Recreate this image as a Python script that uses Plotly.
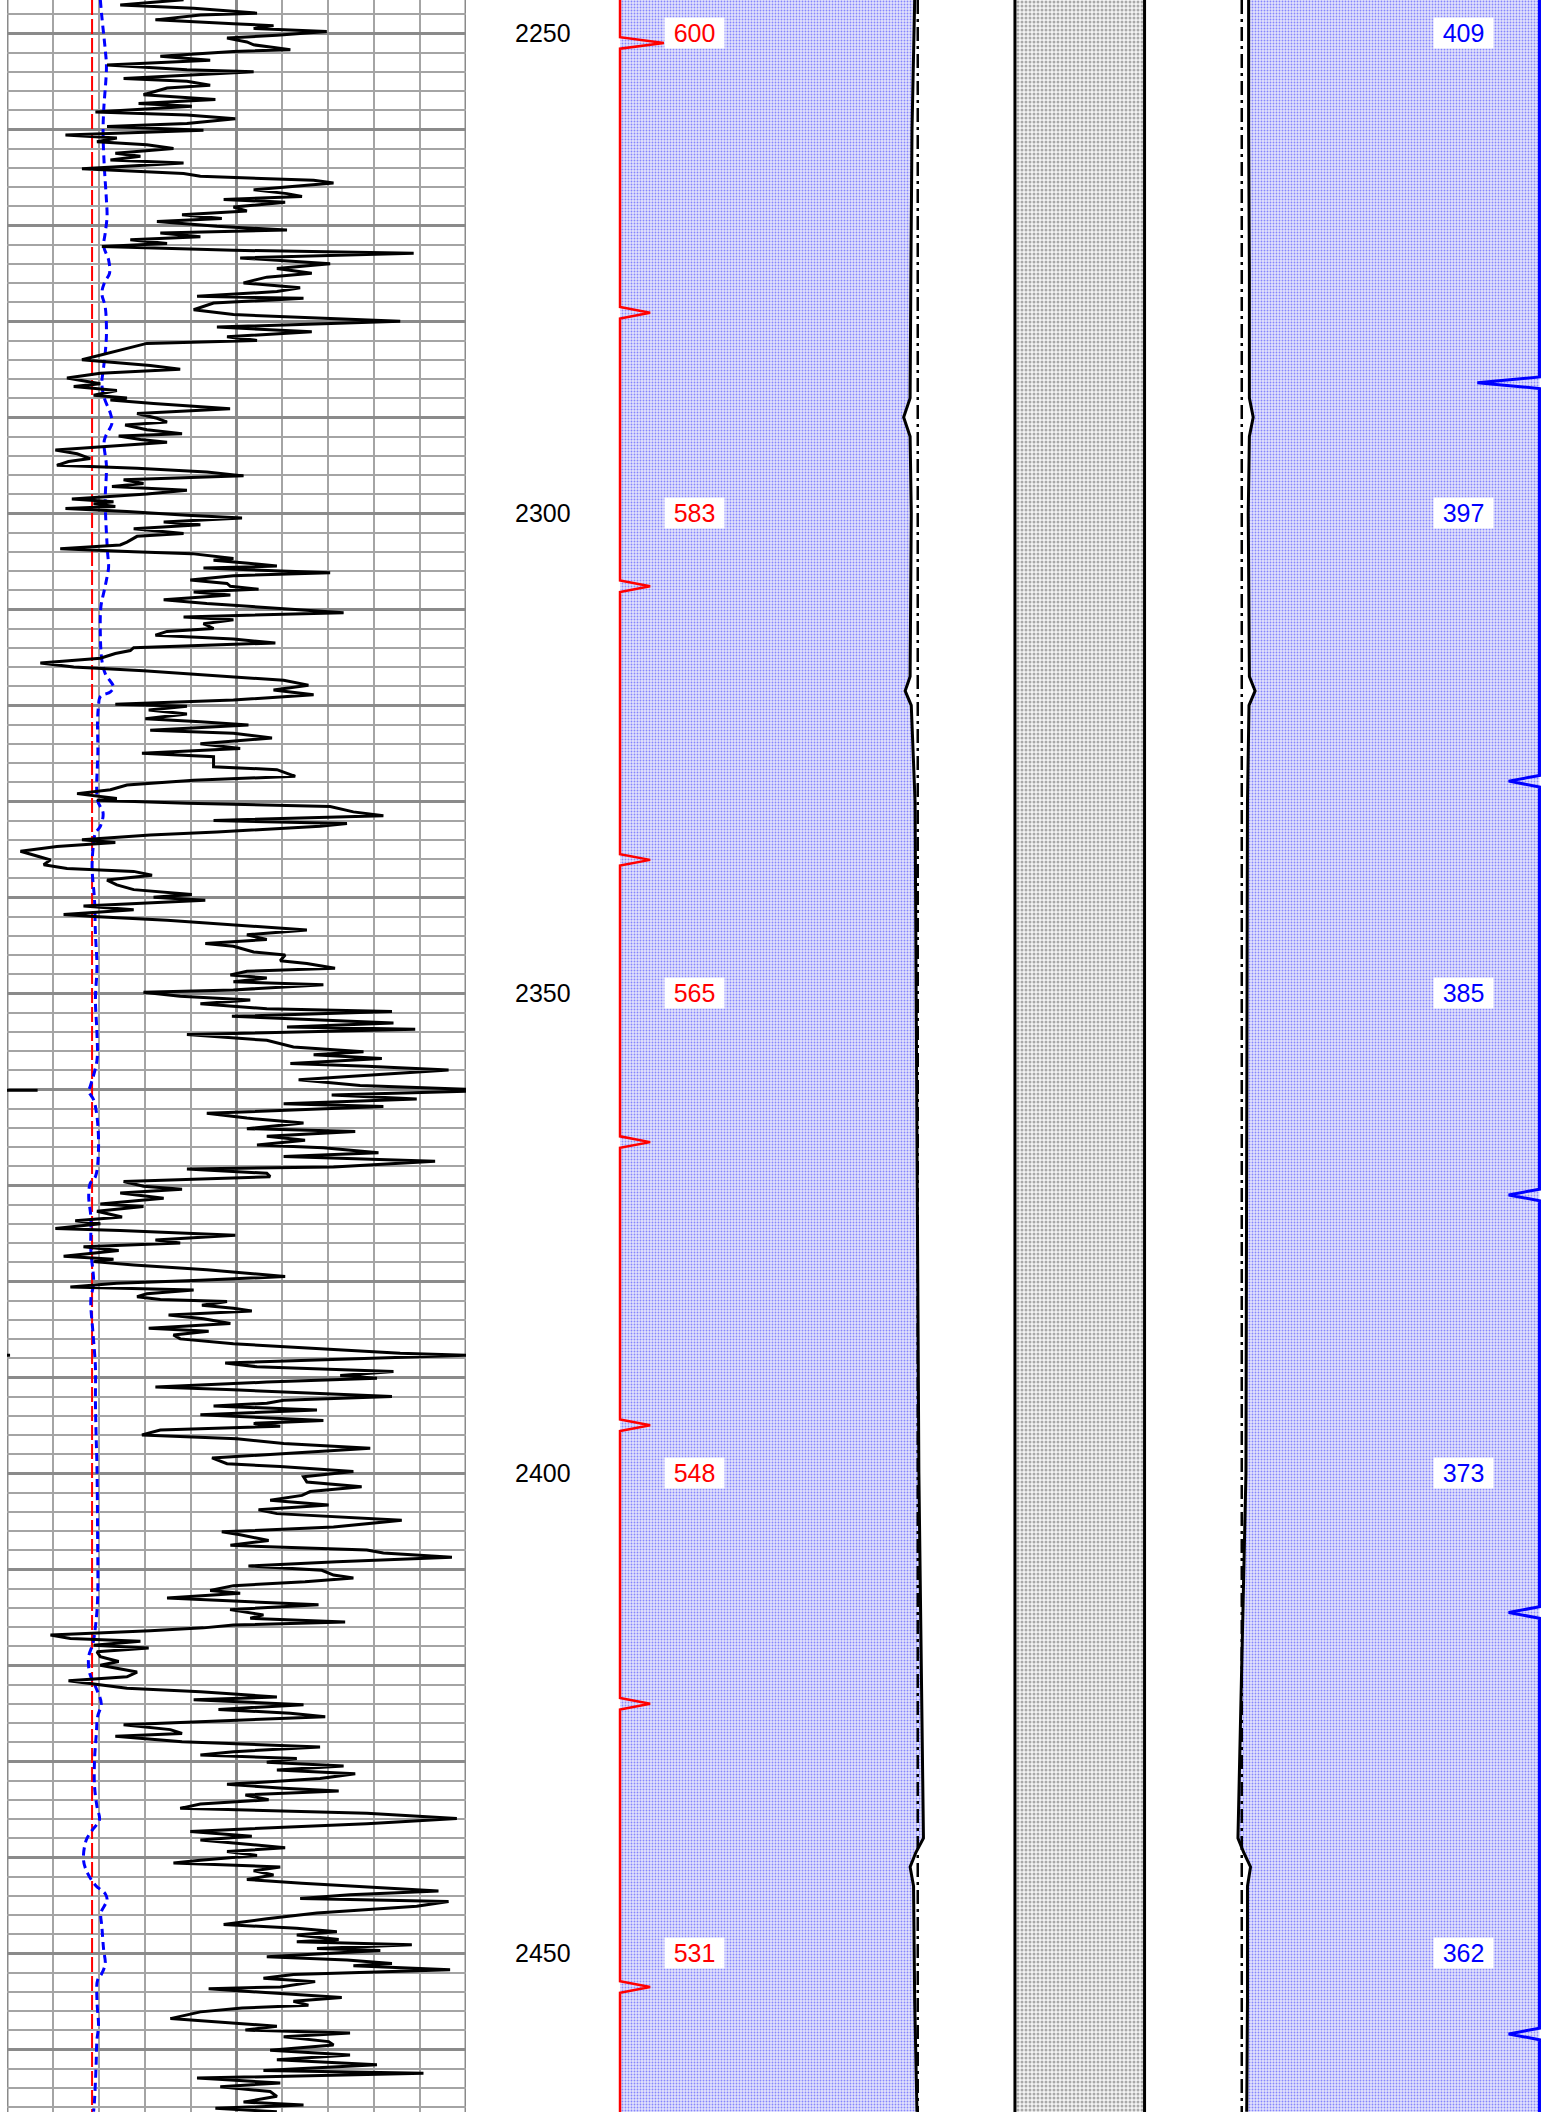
import plotly.graph_objects as go

W, H = 1553, 2112
TOP, BOTTOM = 2246.53, 2466.53

# ---------------- data ----------------
DEPTH_LABELS = [2250, 2300, 2350, 2400, 2450]
RED_LABELS = [600, 583, 565, 548, 531]
BLUE_LABELS = [409, 397, 385, 373, 362]

GR_CUTOFF = 27.8

GR_DEPTH_A = [2246.5, 2247.05, 2247.4, 2247.9, 2248.1, 2248.6, 2249.0, 2249.2, 2249.5, 2249.8,
              2250.2, 2250.5, 2250.9, 2251.2, 2251.7, 2251.9, 2252.4, 2252.8, 2253.3, 2253.8,
              2254.0, 2254.3, 2254.7, 2255.0, 2255.4, 2255.7, 2256.4, 2256.9, 2257.3, 2257.6,
              2258.2, 2258.5, 2258.9, 2259.4, 2259.7, 2260.1, 2260.6, 2260.9, 2261.3, 2261.6,
              2262.0, 2262.5, 2262.8, 2263.2, 2263.5, 2264.1, 2264.3, 2264.6, 2264.9, 2265.3,
              2265.6, 2266.0, 2266.3, 2266.7, 2267.0, 2267.3, 2267.6, 2268.1, 2268.5, 2268.9,
              2269.3, 2269.6, 2270.1, 2270.5, 2270.8, 2271.2, 2271.5, 2271.9, 2272.2, 2272.6,
              2272.9, 2273.4, 2274.0, 2274.5, 2275.0, 2275.4, 2276.0, 2276.5, 2276.9, 2277.4,
              2277.6, 2278.1, 2278.8, 2279.3, 2280.0, 2280.6, 2281.1, 2281.6, 2282.0, 2282.3,
              2282.8, 2283.3, 2284.0, 2284.6, 2285.0, 2285.4, 2285.9, 2286.5, 2286.8, 2287.2,
              2287.7, 2288.0]
GR_API_A = [57.7, 37.0, 61.0, 81.7, 63.2, 48.5, 74.0, 87.1, 80.6, 104.5,
            88.2, 71.9, 78.4, 80.6, 92.6, 74.0, 50.1, 66.4, 32.7, 58.8,
            80.6, 63.2, 38.1, 58.8, 66.4, 52.3, 44.6, 68.1, 43.0, 60.4,
            28.9, 58.8, 74.6, 58.8, 32.7, 64.2, 19.1, 35.9, 29.4, 45.7,
            54.4, 35.4, 43.6, 33.8, 57.7, 24.5, 37.0, 57.7, 63.2, 100.2,
            106.7, 90.4, 80.6, 91.5, 96.4, 70.8, 90.9, 74.0, 78.4, 57.2,
            70.2, 49.0, 68.6, 91.5, 50.1, 63.2, 40.3, 52.3, 31.0, 74.0,
            132.9, 76.2, 105.6, 88.2, 99.6, 84.9, 77.3, 95.8, 88.2, 62.1,
            96.9, 67.5, 61.0, 74.0, 128.5, 68.6, 99.6, 71.9, 81.7, 45.7,
            39.2, 32.7, 24.5, 46.8, 56.6, 30.5, 19.6, 30.5, 21.8, 35.9,
            28.3, 39.2]

GR_DEPTH_B = [2288.2, 2288.55, 2289.1, 2289.6, 2290.1, 2290.5, 2290.8, 2291.3, 2291.7, 2291.95,
              2292.3, 2292.6, 2293.4, 2293.8, 2294.3, 2294.6, 2295.0, 2295.3, 2295.7, 2296.1,
              2296.5, 2296.9, 2297.2, 2297.6, 2298.0, 2298.5, 2298.8, 2299.0, 2299.3, 2299.5,
              2299.8, 2300.2, 2300.5, 2300.9, 2301.2, 2301.6, 2302.1, 2302.4, 2303.0, 2303.3,
              2303.7, 2304.0, 2304.2, 2304.7, 2304.9, 2305.2, 2305.5, 2305.7, 2306.2, 2306.5,
              2306.95, 2307.3, 2307.6, 2307.9, 2308.2, 2308.5, 2309.0, 2309.4, 2309.9, 2310.35,
              2310.8, 2311.1, 2311.5, 2312.0, 2312.3, 2312.7, 2313.1, 2313.5, 2314.0, 2314.3,
              2314.6, 2315.1, 2315.6, 2316.0, 2316.4, 2316.8, 2317.4, 2317.9, 2318.4, 2318.9,
              2319.45, 2319.9, 2320.1, 2320.5, 2320.9, 2321.4, 2321.7, 2322.05, 2322.6, 2322.9,
              2323.4, 2324.0, 2324.5, 2325.0, 2325.35, 2326.4, 2326.7, 2327.4, 2327.8, 2328.3,
              2328.8, 2329.2, 2329.7]
GR_API_B = [33.8, 47.9, 72.9, 42.5, 49.0, 52.3, 38.6, 45.7, 57.2, 36.5,
            43.6, 52.3, 15.8, 22.9, 27.2, 20.1, 16.3, 42.5, 65.3, 77.3,
            38.1, 44.6, 34.3, 58.8, 45.7, 21.2, 34.8, 28.3, 35.4, 19.1,
            39.2, 58.8, 76.8, 51.2, 63.2, 41.4, 57.7, 42.5, 39.2, 37.0,
            17.4, 41.4, 60.4, 74.0, 67.5, 78.9, 88.2, 64.2, 105.6, 74.0,
            59.9, 71.9, 73.0, 82.2, 61.0, 73.0, 51.2, 65.3, 89.3, 110.0,
            57.7, 74.0, 64.2, 67.5, 52.3, 48.5, 74.0, 87.7, 41.4, 40.3,
            35.4, 30.5, 10.9, 21.8, 44.6, 63.2, 90.4, 98.5, 87.1, 100.2,
            74.0, 35.4, 58.8, 46.3, 58.8, 45.2, 63.2, 78.9, 46.8, 74.0,
            86.6, 63.2, 76.2, 44.1, 67.5, 67.5, 88.2, 94.2, 61.0, 39.2,
            33.8, 22.9, 35.9]

GR_DEPTH_C = [2329.9, 2330.2, 2330.55, 2331.1, 2331.5, 2332.0, 2332.3, 2332.6, 2333.2, 2333.5,
              2334.0, 2334.3, 2334.7, 2335.2, 2335.8, 2336.1, 2336.6, 2337.0, 2337.3, 2337.7,
              2338.2, 2338.7, 2339.2, 2339.7, 2340.0, 2340.3, 2340.9, 2341.3, 2341.8, 2342.0,
              2342.4, 2342.9, 2343.4, 2343.9, 2344.4, 2344.8, 2345.1, 2345.7, 2346.0, 2346.6,
              2346.9, 2347.4, 2347.7, 2348.1, 2348.4, 2348.8, 2349.1, 2349.65, 2349.9, 2350.3,
              2350.7, 2351.1, 2351.6, 2351.9, 2352.4, 2352.8, 2353.1, 2353.5, 2353.75, 2354.3,
              2354.9, 2355.6, 2356.1, 2356.4, 2356.8, 2357.3, 2357.6, 2358.0, 2359.0, 2359.6,
              2360.1, 2360.6, 2361.0, 2361.5, 2361.8, 2362.5, 2363.0, 2363.5, 2364.1, 2364.4,
              2364.9, 2365.3, 2365.8, 2366.1, 2366.6, 2367.0, 2367.5, 2368.1, 2368.3, 2368.75,
              2369.1, 2369.6, 2370.1, 2370.4, 2370.8, 2371.35]
GR_API_C = [29.4, 58.8, 105.6, 113.2, 123.0, 67.5, 111.1, 102.3, 68.6, 46.8,
            24.5, 35.4, 16.3, 4.4, 10.9, 14.2, 12.0, 19.6, 41.4, 47.4,
            32.7, 35.9, 41.4, 60.4, 47.9, 64.8, 25.0, 41.4, 18.5, 28.3,
            52.3, 75.1, 98.0, 78.4, 84.9, 64.8, 74.0, 80.6, 90.9, 89.3,
            98.0, 107.2, 78.4, 73.0, 84.9, 74.0, 103.4, 74.0, 44.6, 56.6,
            79.5, 63.2, 84.9, 125.8, 73.5, 104.5, 126.3, 91.5, 133.4, 58.8,
            84.9, 93.6, 116.5, 100.2, 122.5, 92.6, 117.6, 144.3, 95.3, 115.4,
            160.0, 106.1, 133.9, 90.4, 123.0, 65.3, 78.4, 96.9, 78.4, 113.8,
            84.9, 97.4, 81.7, 103.4, 121.4, 90.4, 139.9, 106.7, 58.8, 84.9,
            86.0, 38.1, 44.6, 57.2, 37.0, 51.2]

GR_DEPTH_D = [2371.95, 2372.2, 2372.7, 2373.3, 2373.7, 2374.0, 2374.5, 2374.7, 2375.0, 2375.2,
              2375.7, 2376.0, 2376.4, 2376.8, 2377.4, 2377.7, 2377.95, 2378.3, 2378.8, 2379.1,
              2379.5, 2379.9, 2380.2, 2380.6, 2380.9, 2381.3, 2381.6, 2381.9, 2382.1, 2382.5,
              2382.8, 2383.1, 2383.5, 2383.9, 2384.4, 2384.9, 2385.2, 2385.6, 2386.0, 2386.5,
              2386.8, 2387.2, 2387.5, 2387.7, 2388.0, 2388.5, 2388.9, 2389.4, 2389.8, 2390.1,
              2390.5, 2391.0, 2391.3, 2391.7, 2392.0, 2392.4, 2392.7, 2393.0, 2393.4, 2393.9,
              2394.5, 2394.8, 2395.1, 2395.5, 2396.0, 2396.4, 2396.9, 2397.4, 2397.9, 2398.4,
              2399.0, 2399.3, 2399.8, 2400.35, 2400.9, 2401.4, 2401.9, 2402.3, 2402.8, 2403.3,
              2403.8, 2404.2, 2404.9, 2405.6, 2406.1, 2406.4, 2407.0, 2407.5, 2408.0, 2408.3,
              2408.75, 2409.2, 2409.65, 2410.1, 2410.6, 2410.9, 2411.3, 2411.7, 2412.2, 2412.5,
              2413.0]
GR_API_D = [30.5, 44.6, 29.4, 37.6, 22.3, 30.5, 15.8, 37.0, 58.8, 74.6,
            48.5, 56.6, 25.0, 36.5, 18.5, 34.8, 28.3, 41.4, 65.3, 75.7,
            90.9, 63.2, 35.9, 20.7, 61.0, 45.7, 42.5, 50.1, 71.9, 63.7,
            74.0, 80.0, 52.8, 64.2, 73.0, 46.3, 65.9, 54.4, 56.6, 74.0,
            90.4, 108.9, 128.5, 151.0, 123.0, 71.3, 81.7, 126.3, 108.9, 120.9,
            84.9, 48.5, 74.0, 106.7, 125.8, 90.4, 84.9, 67.5, 101.3, 63.2,
            103.4, 80.6, 89.3, 50.1, 44.1, 75.1, 90.4, 118.7, 91.5, 67.0,
            71.9, 89.3, 113.2, 96.9, 98.0, 115.9, 99.1, 96.4, 86.0, 105.1,
            82.2, 88.2, 129.0, 106.7, 70.2, 76.2, 85.5, 73.0, 117.6, 123.0,
            145.4, 107.8, 78.9, 102.9, 106.7, 113.2, 97.4, 74.0, 66.4, 76.2,
            52.3]

GR_DEPTH_E = [2413.7, 2414.2, 2414.75, 2415.1, 2415.5, 2415.8, 2416.1, 2416.4, 2416.85, 2417.2,
              2417.5, 2417.9, 2418.2, 2418.6, 2419.1, 2419.6, 2420.0, 2420.7, 2421.2, 2421.6,
              2422.05, 2422.4, 2422.75, 2423.3, 2423.6, 2424.1, 2424.6, 2425.0, 2425.35, 2425.9,
              2426.2, 2426.7, 2427.1, 2427.4, 2427.95, 2428.5, 2429.0, 2429.35, 2429.7, 2430.1,
              2430.5, 2430.9, 2431.3, 2431.8, 2432.4, 2432.8, 2433.1, 2433.5, 2434.0, 2434.45,
              2434.9, 2435.4, 2435.95, 2436.5, 2437.0, 2437.3, 2437.8, 2438.2, 2438.5, 2439.0,
              2439.4, 2439.8, 2440.3, 2440.6, 2441.0, 2441.4, 2441.85, 2442.3, 2442.7, 2443.2,
              2443.5, 2443.9, 2444.3]
GR_API_E = [101.8, 72.9, 83.8, 79.5, 110.5, 74.0, 64.2, 46.8, 14.2, 20.7,
            43.6, 28.3, 46.3, 29.4, 30.5, 36.5, 30.5, 42.5, 39.2, 20.1,
            30.5, 39.2, 63.2, 88.2, 61.0, 96.9, 69.1, 92.6, 104.0, 63.2,
            38.1, 53.4, 57.2, 35.4, 57.2, 102.3, 74.0, 63.2, 94.7, 84.9,
            110.0, 88.2, 113.8, 102.3, 71.9, 90.4, 108.4, 77.9, 85.5, 63.2,
            56.6, 117.6, 147.0, 117.6, 80.6, 59.9, 80.0, 63.2, 74.0, 90.9,
            71.9, 81.7, 63.2, 54.4, 89.3, 80.6, 87.1, 78.4, 96.4, 123.0,
            141.0, 112.1, 95.8]

GR_DEPTH_F = [2444.6, 2445.1, 2445.8, 2446.4, 2447.0, 2447.4, 2447.75, 2448.1, 2448.55, 2448.8,
              2449.1, 2449.5, 2449.7, 2450.35, 2450.7, 2451.05, 2451.3, 2451.7, 2452.2, 2452.6,
              2452.95, 2453.5, 2453.7, 2454.2, 2454.6, 2455.0, 2455.4, 2455.7, 2456.1, 2456.8,
              2457.3, 2457.6, 2458.0, 2458.3, 2458.7, 2459.2, 2459.55, 2460.1, 2460.6, 2461.1,
              2461.6, 2462.2, 2462.5, 2463.0, 2463.5, 2463.9, 2464.4, 2464.9, 2465.5, 2465.8,
              2466.15, 2466.5]
GR_API_F = [144.3, 133.9, 101.3, 84.9, 70.8, 94.7, 107.8, 94.7, 108.4, 94.7,
            132.3, 101.3, 122.0, 84.9, 111.1, 125.8, 113.2, 144.8, 93.6, 83.8,
            100.7, 89.3, 65.9, 90.4, 109.4, 93.6, 98.5, 76.8, 63.2, 53.4,
            76.2, 88.2, 77.9, 112.1, 90.4, 105.1, 106.7, 86.0, 112.1, 88.2,
            120.9, 83.8, 136.1, 62.1, 89.3, 69.7, 86.0, 88.2, 77.3, 96.9,
            68.1, 88.2]

BASE_DEPTH = [2246.5, 2248.3, 2251.7, 2253.5, 2258.0, 2260.4, 2263.9, 2267.4, 2269.1, 2270.8,
              2272.2, 2273.6, 2275.0, 2276.0, 2277.1, 2278.5, 2281.3, 2283.3, 2284.7, 2286.5, 2288.0,
              2289.6, 2290.6, 2292.4, 2295.1, 2298.6, 2302.1, 2304.2, 2305.6, 2306.95, 2308.0,
              2309.7, 2312.5, 2315.3, 2316.7, 2318.1, 2318.6, 2319.1, 2320.1, 2321.5, 2324.7, 2329.9,
              2331.2, 2332.6, 2333.3, 2334.4, 2336.8, 2340.3, 2343.8, 2347.2, 2350.7, 2354.2,
              2357.0, 2359.7, 2360.2, 2361.1, 2362.8, 2366.3, 2369.1, 2369.8, 2371.2,
              2373.3, 2376.7, 2380.2, 2381.9, 2385.4, 2388.9, 2392.4, 2395.8, 2399.3, 2406.3, 2413.2,
              2416.0, 2417.7, 2419.1, 2420.8, 2422.2, 2424.0, 2425.35, 2427.1, 2429.9, 2432.6,
              2434.7, 2436.1, 2437.2, 2438.2, 2440.3, 2441.7, 2442.9, 2443.8,
              2444.45, 2445.8, 2447.2, 2449.7, 2451.05, 2452.1, 2452.8, 2454.9, 2457.6, 2459.0,
              2461.8, 2465.3, 2466.5]
BASE_API = [30.5, 31.0, 32.1, 32.5, 31.6, 31.4, 31.8, 32.5, 32.7, 32.1,
            31.6, 33.2, 33.5, 31.8, 31.0, 32.1, 32.5, 32.1, 31.6, 31.0, 31.8,
            33.8, 34.3, 31.8, 32.5, 32.1, 32.5, 32.9, 33.2, 32.5, 31.8,
            30.7, 30.5, 31.0, 32.1, 34.8, 33.8, 30.5, 29.9, 29.6, 29.7, 29.6,
            31.4, 30.5, 28.9, 28.3, 27.8, 28.6, 28.9, 29.4, 28.9, 29.4,
            29.4, 27.2, 26.7, 28.3, 29.4, 29.9, 28.9, 27.2, 26.7,
            27.4, 27.4, 28.3, 27.4, 28.1, 28.9, 28.9, 29.1, 29.4, 29.6, 29.6,
            28.9, 28.1, 26.7, 27.0, 28.9, 30.8, 29.6, 29.2, 28.6, 28.6,
            29.4, 30.2, 27.8, 25.9, 25.0, 26.4, 28.9, 32.1,
            32.7, 30.7, 31.0, 31.6, 32.1, 31.0, 29.6, 29.4, 29.9, 29.4,
            29.1, 28.6, 28.3]

# caliper (radius, inches) for both arms
CAL_DEPTH = [2246.5, 2260.0, 2275.0, 2288.0, 2290.0, 2292.0, 2300.0, 2317.0, 2318.5, 2320.0,
             2330.0, 2360.0, 2380.0, 2400.0, 2438.0, 2439.5, 2441.0, 2443.0, 2455.0, 2466.5]
CAL_LEFT = [4.33, 4.40, 4.43, 4.45, 4.62, 4.45, 4.42, 4.45, 4.58, 4.42,
            4.32, 4.27, 4.25, 4.22, 4.10, 4.30, 4.45, 4.36, 4.33, 4.27]
CAL_RIGHT = [4.43, 4.43, 4.45, 4.45, 4.55, 4.45, 4.42, 4.45, 4.60, 4.44,
             4.40, 4.38, 4.36, 4.36, 4.15, 4.30, 4.48, 4.40, 4.40, 4.38]
BIT_RADIUS = 4.25
TUBING_RADIUS = 1.7
CASING_RADIUS = 12.06

RED_SPIKE_DEPTH = [2251.0, 2279.1, 2307.6, 2336.1, 2365.5, 2395.0, 2424.0, 2453.5]
RED_SPIKE_SIZE = [1.15, 0.79, 0.79, 0.79, 0.79, 0.79, 0.79, 0.79]
BLUE_SPIKE_DEPTH = [2286.4, 2327.9, 2371.0, 2414.5, 2458.4]
BLUE_SPIKE_SIZE = [1.63, 0.81, 0.81, 0.81, 0.81]

# ---------------- build ----------------
FONT = "Liberation Sans, Arial, sans-serif"
gr_depth, gr_api = [], []
for d, v in [(GR_DEPTH_A, GR_API_A), (GR_DEPTH_B, GR_API_B), (GR_DEPTH_C, GR_API_C),
             (GR_DEPTH_D, GR_API_D), (GR_DEPTH_E, GR_API_E), (GR_DEPTH_F, GR_API_F)]:
    for a, b in zip(d, v):
        gr_depth.append(a)
        gr_api.append(b)

GR_MAX = 150.0
wrap_x, wrap_y = [], []
for d, v in zip(gr_depth, gr_api):
    if v > GR_MAX:
        wrap_x += [0, v - GR_MAX, None]
        wrap_y += [d, d, None]

fig = go.Figure()
T1 = dict(xaxis="x", yaxis="y")
T2 = dict(xaxis="x2", yaxis="y2")

fig.add_trace(go.Scatter(x=[GR_CUTOFF, GR_CUTOFF], y=[TOP, BOTTOM], mode="lines",
                         line=dict(color="red", width=2, dash="15px,4px"), hoverinfo="skip", **T1))
fig.add_trace(go.Scatter(x=BASE_API, y=BASE_DEPTH, mode="lines",
                         line=dict(color="blue", width=3, dash="8px,5px", shape="spline"), **T1))
fig.add_trace(go.Scatter(x=gr_api, y=gr_depth, mode="lines",
                         line=dict(color="black", width=3), **T1))
fig.add_trace(go.Scatter(x=wrap_x, y=wrap_y, mode="lines",
                         line=dict(color="black", width=3), **T1))

blue_pat = dict(shape=".", fgcolor="#2a2aff", bgcolor="#e2e2fb", size=3, solidity=0.3)
gray_pat = dict(shape=".", fgcolor="#5e5e5e", bgcolor="#f4f4f4", size=4, solidity=0.45)

# left fill (casing to caliper)
fig.add_trace(go.Scatter(
    x=[-CASING_RADIUS, -CASING_RADIUS] + [-c for c in CAL_LEFT[::-1]],
    y=[TOP, BOTTOM] + CAL_DEPTH[::-1], mode="lines", line=dict(width=0),
    fill="toself", fillcolor="rgba(0,0,0,0)", fillpattern=blue_pat, hoverinfo="skip", **T2))
# right fill
fig.add_trace(go.Scatter(
    x=[CASING_RADIUS, CASING_RADIUS] + [c for c in CAL_RIGHT[::-1]],
    y=[TOP, BOTTOM] + CAL_DEPTH[::-1], mode="lines", line=dict(width=0),
    fill="toself", fillcolor="rgba(0,0,0,0)", fillpattern=blue_pat, hoverinfo="skip", **T2))
# tubing
fig.add_trace(go.Scatter(
    x=[-TUBING_RADIUS, TUBING_RADIUS, TUBING_RADIUS, -TUBING_RADIUS],
    y=[TOP, TOP, BOTTOM, BOTTOM], mode="lines", line=dict(width=0),
    fill="toself", fillcolor="rgba(0,0,0,0)", fillpattern=gray_pat, hoverinfo="skip", **T2))
for s in (-1, 1):
    fig.add_trace(go.Scatter(x=[s * TUBING_RADIUS] * 2, y=[TOP, BOTTOM], mode="lines",
                             line=dict(color="black", width=3), **T2))
    fig.add_trace(go.Scatter(x=[s * BIT_RADIUS] * 2, y=[TOP, BOTTOM], mode="lines",
                             line=dict(color="black", width=2.5, dash="14px,5px,3px,5px"), **T2))
fig.add_trace(go.Scatter(x=[-c for c in CAL_LEFT], y=CAL_DEPTH, mode="lines",
                         line=dict(color="black", width=3), **T2))
fig.add_trace(go.Scatter(x=CAL_RIGHT, y=CAL_DEPTH, mode="lines",
                         line=dict(color="black", width=3), **T2))

HALF = 0.6
def spike_line(base, sign, depths, sizes):
    xs, ys = [base], [TOP]
    for d, a in zip(depths, sizes):
        xs += [base, base + sign * a, base]
        ys += [d - HALF, d, d + HALF]
    xs.append(base)
    ys.append(BOTTOM)
    return xs, ys

rx, ry = spike_line(-CASING_RADIUS, 1, RED_SPIKE_DEPTH, RED_SPIKE_SIZE)
fig.add_trace(go.Scatter(x=rx, y=ry, mode="lines", line=dict(color="red", width=2.5), **T2))
bx, by = spike_line(CASING_RADIUS, -1, BLUE_SPIKE_DEPTH, BLUE_SPIKE_SIZE)
fig.add_trace(go.Scatter(x=bx, y=by, mode="lines", line=dict(color="blue", width=3), **T2))

ann = []
for d, r, b in zip(DEPTH_LABELS, RED_LABELS, BLUE_LABELS):
    ann.append(dict(x=543 / W, xref="paper", y=d, yref="y", text=str(d), showarrow=False,
                    font=dict(family=FONT, size=25, color="black"), xanchor="center", yanchor="middle"))
    ann.append(dict(x=-10.1, xref="x2", y=d, yref="y2", text=str(r), showarrow=False,
                    font=dict(family=FONT, size=25, color="red"), bgcolor="white",
                    width=59, height=30, borderpad=0, xanchor="center", yanchor="middle"))
    ann.append(dict(x=10.06, xref="x2", y=d, yref="y2", text=str(b), showarrow=False,
                    font=dict(family=FONT, size=25, color="blue"), bgcolor="white",
                    width=59, height=30, borderpad=0, xanchor="center", yanchor="middle"))

shapes = []
for xv in (0, GR_MAX):
    shapes.append(dict(type="line", xref="x", yref="paper", x0=xv, x1=xv, y0=0, y1=1,
                       line=dict(color="#8a8a8a", width=3), layer="below"))

PX_PER_IN = 38.12
CENTER_PX = 1079.75
x2_lo = (600 - CENTER_PX) / PX_PER_IN
x2_hi = (W - CENTER_PX) / PX_PER_IN

fig.update_layout(
    width=W, height=H, margin=dict(l=0, r=0, t=0, b=0),
    paper_bgcolor="white", plot_bgcolor="white", showlegend=False,
    xaxis=dict(domain=[7 / W, 466 / W], range=[0, GR_MAX], tick0=0, dtick=75,
               showgrid=True, gridcolor="#8a8a8a", gridwidth=2.5,
               minor=dict(dtick=15, tick0=0, showgrid=True, gridcolor="#a4a4a4", gridwidth=1.5),
               showticklabels=False, ticks="", zeroline=False, showline=False),
    yaxis=dict(domain=[0, 1], range=[BOTTOM, TOP], tick0=2250, dtick=10,
               showgrid=True, gridcolor="#8a8a8a", gridwidth=3,
               minor=dict(dtick=2, tick0=2250, showgrid=True, gridcolor="#a4a4a4", gridwidth=1.5),
               showticklabels=False, ticks="", zeroline=False, showline=False),
    xaxis2=dict(domain=[600 / W, 1.0], range=[x2_lo, x2_hi], visible=False, anchor="y2"),
    yaxis2=dict(domain=[0, 1], range=[BOTTOM, TOP], visible=False, anchor="x2"),
    annotations=ann, shapes=shapes,
)

fig.write_html("out.html", config={"displayModeBar": False},
               post_script="document.body.style.margin='0';")
